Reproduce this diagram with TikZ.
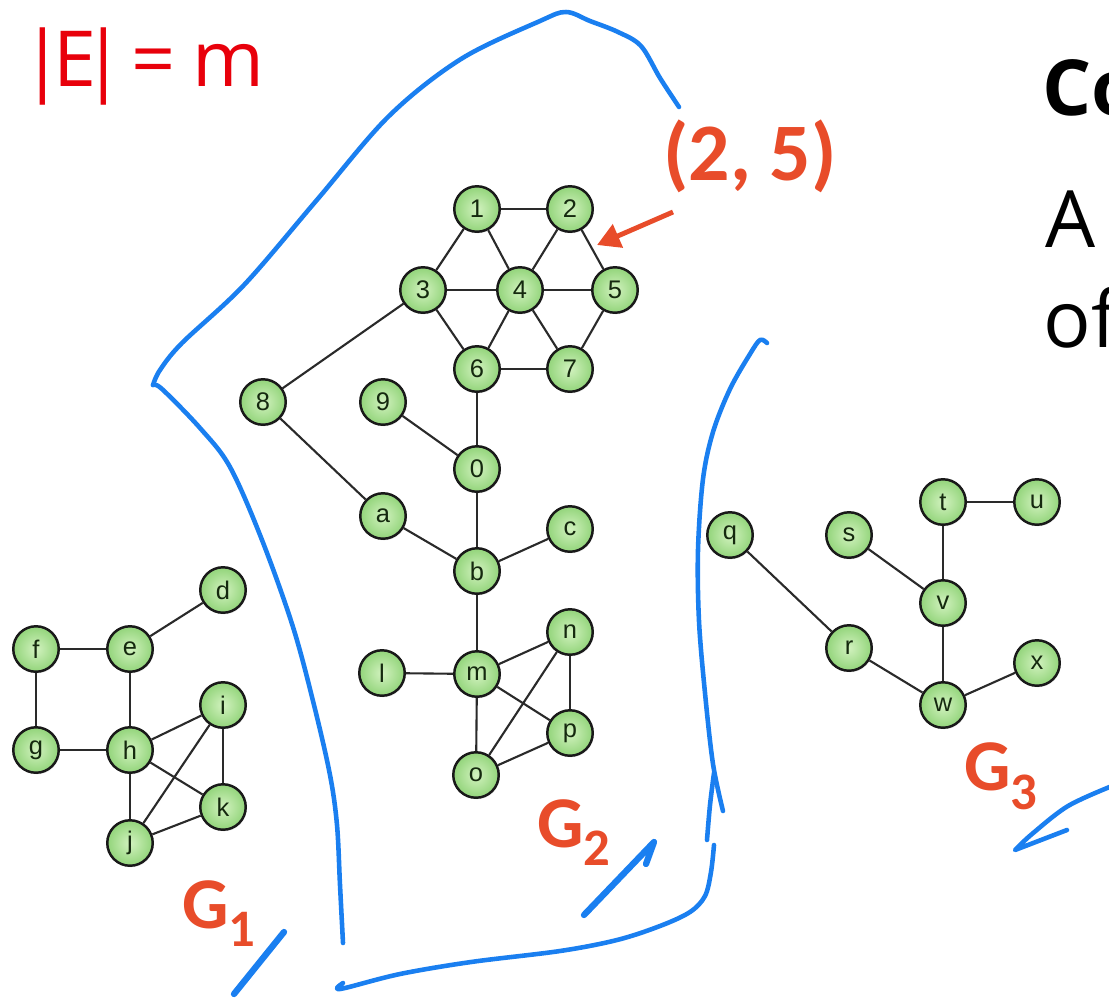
\documentclass[tikz,border=0pt]{standalone}
\usepackage{fontspec}
\setmainfont{Open Sans}
\newfontfamily\carlitofont{Carlito}
\newfontfamily\arialfont{Liberation Sans}
\usetikzlibrary{shadows,arrows.meta}
\definecolor{blueink}{HTML}{1A7FF0}
\definecolor{orangeink}{HTML}{E84C2A}
\definecolor{redink}{HTML}{E8000B}
\definecolor{nodein}{HTML}{D2F2BF}
\definecolor{nodeout}{HTML}{92D47A}
\definecolor{nodetext}{HTML}{15290F}
\definecolor{edgecol}{HTML}{2A2A2A}
\begin{document}
\begin{tikzpicture}[x=0.02cm, y=-0.02cm,
  gnode/.style={circle, draw=black!90, line width=1.4pt, minimum size=0.91cm, inner sep=0pt,
    inner color=nodein, outer color=nodeout,
    font=\arialfont\fontsize{14.5}{16}\selectfont, text=nodetext,
    drop shadow={opacity=0.18, shadow xshift=0.6pt, shadow yshift=-0.9pt}},
  gedge/.style={draw=edgecol, line width=1.2pt},
  ink/.style={draw=blueink, line width=2.6pt, line cap=round, line join=round},
  thickink/.style={draw=blueink, line width=3.6pt, line cap=round, line join=round},
  glabel/.style={anchor=base west, inner sep=0pt, text=orangeink,
    font=\carlitofont\bfseries\fontsize{41.5}{45}\selectfont},
]
\useasboundingbox (0,0) rectangle (1109,998);
\clip (0,0) rectangle (1109,998);

% ---------- graph G2 ----------
\node[gnode] (n1) at (477,209) {1};
\node[gnode] (n2) at (570,209) {2};
\node[gnode] (n3) at (423,290) {3};
\node[gnode] (n4) at (520,290) {4};
\node[gnode] (n5) at (615,290) {5};
\node[gnode] (n6) at (477,369) {6};
\node[gnode] (n7) at (570,369) {7};
\node[gnode] (n8) at (263,402) {8};
\node[gnode] (n9) at (383,402) {9};
\node[gnode] (n0) at (477,469) {0};
\node[gnode] (na) at (383,516) {a};
\node[gnode] (nb) at (477,571) {b};
\node[gnode] (nc) at (570,529) {c};
\node[gnode] (nl) at (382,673) {l};
\node[gnode] (nm) at (477,674) {m};
\node[gnode] (nn) at (570,632) {n};
\node[gnode] (np) at (570,733) {p};
\node[gnode] (no) at (476,775) {o};

% ---------- graph G1 ----------
\node[gnode] (nd) at (223,590) {d};
\node[gnode] (nf) at (36,649) {f};
\node[gnode] (ne) at (130,649) {e};
\node[gnode] (ni) at (223,705) {i};
\node[gnode] (ng) at (36,750) {g};
\node[gnode] (nh) at (130,750) {h};
\node[gnode] (nk) at (223,807) {k};
\node[gnode] (nj) at (130,843) {j};

% ---------- graph G3 ----------
\node[gnode] (nq) at (730,535) {q};
\node[gnode] (ns) at (849,535) {s};
\node[gnode] (nt) at (943,502) {t};
\node[gnode] (nu) at (1037,502) {u};
\node[gnode] (nv) at (943,603) {v};
\node[gnode] (nr) at (849,648) {r};
\node[gnode] (nx) at (1037,663) {x};
\node[gnode] (nw) at (943,705) {w};

% edges
\foreach \a/\b in {n1/n2,n1/n3,n1/n4,n2/n4,n2/n5,n3/n4,n4/n5,n3/n6,n4/n6,n4/n7,n5/n7,n6/n7,
  n3/n8,n6/n0,n9/n0,n8/na,n0/nb,na/nb,nb/nc,nb/nm,nl/nm,nm/nn,nm/np,nm/no,nn/np,nn/no,no/np,
  nf/ne,ne/nd,nf/ng,ne/nh,ng/nh,nh/ni,nh/nk,nh/nj,ni/nk,ni/nj,nj/nk,
  nt/nu,nt/nv,ns/nv,nv/nw,nq/nr,nr/nw,nw/nx}
  \draw[gedge] (\a) -- (\b);

% ---------- texts ----------
\node[anchor=base west, inner sep=0pt, text=redink, font=\fontsize{44}{50}\selectfont] (eqE) at (26,86)
  {\makebox[18.2pt][c]{|}\makebox[18.8pt][c]{E}\makebox[13.7pt][c]{|}\makebox[43.2pt][c]{=}\makebox[42.7pt][c]{m}};
\node[anchor=base west, inner sep=0pt, font=\bfseries\fontsize{44}{48}\selectfont] (title) at (1042,115) {Co};
\node[anchor=base west, inner sep=0pt, font=\fontsize{45}{50}\selectfont] (lineA) at (1045,247) {A};
\node[anchor=base west, inner sep=0pt, font=\fontsize{45}{50}\selectfont] (lineB) at (1043,347) {of};

\node[anchor=base west, inner sep=0pt, text=orangeink, font=\carlitofont\bfseries\fontsize{46.5}{50}\selectfont] (pair) at (663,180) {(2, 5)};
\coordinate (arrtail) at (673,212);
\coordinate (arrtip) at (597,245);
\draw[draw=orangeink, line width=2.8pt, -{Triangle[length=13pt,width=14pt]}] (arrtail) -- (arrtip);

\node[glabel] (g1) at (182,928) {G\raisebox{-10.8pt}{\fontsize{30}{30}\selectfont 1}};
\node[glabel] (g2) at (537,847) {G\raisebox{-10.4pt}{\fontsize{30}{30}\selectfont 2}};
\node[glabel] (g3) at (964,790) {G\raisebox{-11.2pt}{\fontsize{30}{30}\selectfont 3}};

% ---------- blue ink ----------
\draw[ink] plot[smooth, tension=0.55] coordinates {(679,107) (660,78) (641,46) (618,32) (590,21) (566,12) (540,21) (461,59) (389,116) (316,201) (244,285) (182,343) (160,370) (153,385)};
\draw[ink] plot[smooth, tension=0.55] coordinates {(153,385) (162,389) (200,428) (230,467) (262,540) (293,627) (314,705) (330,775) (337,825) (340,885) (343,943)};
\draw[ink] plot[smooth, tension=0.55] coordinates {(343,983) (337,988) (345,988) (400,974) (471,962) (560,951) (617,940) (660,926) (690,912) (705,896) (711,872) (714,845)};
\draw[ink] plot[smooth, tension=0.55] coordinates {(767,343) (760,340) (750,354) (730,389) (713,432) (703,479) (698,550) (699,621) (705,693) (713,764) (723,811)};
\draw[ink] plot[smooth, tension=0.55] coordinates {(707,840) (710,805) (714,773)};
\draw[thickink] (584,915) -- (654,842) -- (646,864);
\draw[thickink] (234,994) -- (284,932);
\draw[ink] plot[smooth, tension=0.55] coordinates {(1112,786) (1068,806) (1032,834) (1015,850)} -- (1067,830);
\end{tikzpicture}
\end{document}
